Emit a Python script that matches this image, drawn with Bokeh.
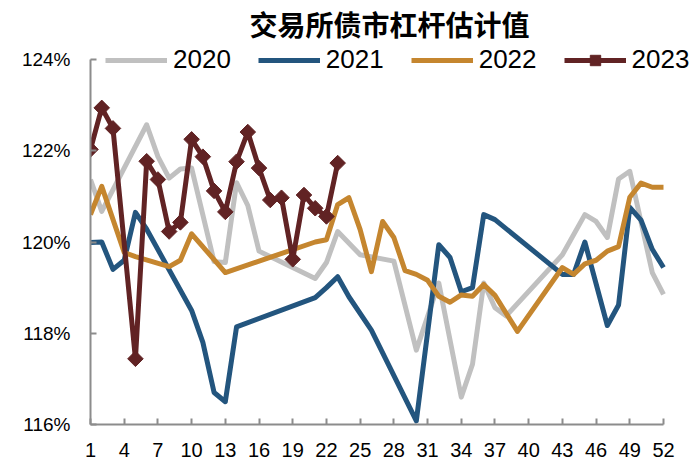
from bokeh.plotting import figure
from bokeh.models import Range1d, FixedTicker, PrintfTickFormatter, Legend, LegendItem, Label
from bokeh.embed import file_html
from bokeh.resources import INLINE
import math

title_text = "交易所债市杠杆估计值"
x_ticks = list(range(1, 53, 3))
y_ticks = [116, 118, 120, 122, 124]

weeks_2020 = [1, 2, 6, 7, 8, 9, 10, 12, 13, 14, 15, 16, 21, 22, 23, 25, 28, 30, 32, 34, 35, 36, 37, 38, 43, 45, 46, 47, 48, 49, 51, 52]
vals_2020 = [121.37, 120.67, 122.57, 121.87, 121.4, 121.6, 121.62, 119.57, 119.55, 121.3, 120.8, 119.8, 119.2, 119.55, 120.23, 119.72, 119.58, 117.63, 119.1, 116.6, 117.32, 119.1, 118.56, 118.38, 119.72, 120.6, 120.45, 120.1, 121.38, 121.55, 119.33, 118.85]

weeks_2021 = [1, 2, 3, 4, 5, 6, 10, 11, 12, 13, 14, 21, 22, 23, 24, 26, 30, 32, 33, 34, 35, 36, 37, 43, 44, 45, 47, 48, 49, 50, 51, 52]
vals_2021 = [119.99, 120.0, 119.4, 119.6, 120.65, 120.28, 118.5, 117.8, 116.7, 116.5, 118.14, 118.78, 119.0, 119.24, 118.8, 118.07, 116.08, 119.94, 119.66, 118.91, 119.0, 120.6, 120.49, 119.29, 119.29, 120.0, 118.17, 118.62, 120.76, 120.48, 119.84, 119.44]

weeks_2022 = [1, 2, 4, 5, 8, 9, 10, 13, 21, 22, 23, 24, 25, 26, 27, 28, 29, 30, 31, 32, 33, 34, 35, 36, 37, 39, 43, 44, 45, 46, 47, 48, 49, 50, 51, 52]
vals_2022 = [120.6, 121.22, 119.77, 119.68, 119.46, 119.6, 120.18, 119.33, 120.0, 120.05, 120.82, 120.97, 120.27, 119.35, 120.45, 120.1, 119.37, 119.29, 119.16, 118.81, 118.68, 118.84, 118.81, 119.07, 118.83, 118.04, 119.44, 119.29, 119.52, 119.6, 119.8, 119.9, 120.98, 121.29, 121.2, 121.2]

weeks_2023 = [1, 2, 3, 5, 6, 7, 8, 9, 10, 11, 12, 13, 14, 15, 16, 17, 18, 19, 20, 21, 22, 23]
vals_2023 = [122.03, 122.94, 122.49, 117.44, 121.77, 121.37, 120.23, 120.43, 122.25, 121.87, 121.12, 120.66, 121.76, 122.41, 121.62, 120.92, 120.97, 119.62, 121.03, 120.74, 120.56, 121.73]

c2020 = "#C0C0C0"
c2021 = "#23557E"
c2022 = "#C5862F"
c2023 = "#612324"
axis_gray = "#8C8C8C"

# layout geometry (pixels)
left_px, axis_w_px, right_extra_px = 90, 573, 33
top_extra_px, axis_h_px, bottom_px = 59, 365, 50
x0, x1 = x_ticks[0], x_ticks[-1]
y0, y1 = y_ticks[0], y_ticks[-1]
x_end = x1 + right_extra_px * (x1 - x0) / axis_w_px
y_end = y1 + top_extra_px * (y1 - y0) / axis_h_px

p = figure(frame_width=axis_w_px + right_extra_px, frame_height=axis_h_px + top_extra_px,
           min_border_left=left_px, min_border_right=0, min_border_top=0, min_border_bottom=bottom_px,
           x_range=Range1d(x0, x_end), y_range=Range1d(y0, y_end),
           output_backend="svg", toolbar_location=None, title=None)

p.xgrid.visible = False
p.ygrid.visible = False
p.outline_line_color = None
p.background_fill_color = "white"
p.border_fill_color = "white"

for ax in (p.xaxis[0], p.yaxis[0]):
    ax.axis_line_color = axis_gray
    ax.axis_line_width = 2
    ax.major_tick_line_color = axis_gray
    ax.major_tick_line_width = 2
    ax.major_tick_in = 6
    ax.major_tick_out = 0
    ax.minor_tick_line_color = None
    ax.major_label_text_font = "Liberation Sans"
    ax.major_label_text_color = "black"

p.xaxis.bounds = (x0, x1)
p.yaxis.bounds = (y0, y1)
p.xaxis.ticker = FixedTicker(ticks=x_ticks)
p.xaxis.major_label_text_font_size = "20px"
p.xaxis.major_label_standoff = 18
p.yaxis.ticker = FixedTicker(ticks=y_ticks)
p.yaxis.formatter = PrintfTickFormatter(format="%d%%")
p.yaxis.major_label_text_font_size = "19px"
p.yaxis.major_label_standoff = 20

lw = 5
r20 = p.line(weeks_2020, vals_2020, line_color=c2020, line_width=lw, line_join="round")
r21 = p.line(weeks_2021, vals_2021, line_color=c2021, line_width=lw, line_join="round")
r22 = p.line(weeks_2022, vals_2022, line_color=c2022, line_width=lw, line_join="round")
r23 = p.line(weeks_2023, vals_2023, line_color=c2023, line_width=lw, line_join="round")
r23m = p.scatter(weeks_2023, vals_2023, marker="square", size=11, angle=math.pi / 4,
                 fill_color=c2023, line_color=c2023)

legend = Legend(items=[
    LegendItem(label="2020", renderers=[r20]),
    LegendItem(label="2021", renderers=[r21]),
    LegendItem(label="2022", renderers=[r22]),
    LegendItem(label="2023", renderers=[r23, r23m]),
], location=(15, 349), orientation="horizontal",
    glyph_width=62, glyph_height=26, label_height=26, label_standoff=6, spacing=27,
    padding=0, margin=0, border_line_color=None, background_fill_alpha=0)
legend.label_text_font = "Liberation Sans"
legend.label_text_font_size = "26px"
legend.label_text_color = "black"
p.add_layout(legend)

title = Label(x=299, y=401, x_units="screen", y_units="screen", text=title_text,
              text_font="Noto Sans CJK SC", text_font_size="28px", text_font_style="bold",
              text_align="center", text_baseline="middle", text_color="black")
p.add_layout(title)

open("out.html", "w").write(file_html(p, INLINE))
